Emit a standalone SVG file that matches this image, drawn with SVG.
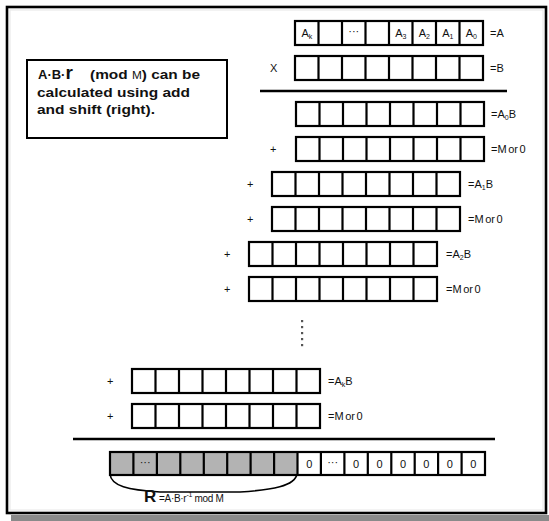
<svg xmlns="http://www.w3.org/2000/svg" xmlns:xlink="http://www.w3.org/1999/xlink" width="549" height="521" viewBox="0 0 549 521">
<style>
.t{font-family:"Liberation Sans",Arial,sans-serif;fill:#111}
.s{font-size:11px}
.m{font-size:11px;word-spacing:-1.5px}
.c{font-size:11px;text-anchor:middle}
.b{font-weight:bold;font-size:13px}
.ln{stroke:#000;stroke-width:2.2;fill:none}
.cell{fill:#fff;stroke:#000;stroke-width:2.2}
</style>
<defs>
<g id="row8">
<rect class="cell" x="0" y="0" width="188" height="24"/>
<path class="ln" d="M23.5,0V24M47,0V24M70.5,0V24M94,0V24M117.5,0V24M141,0V24M164.5,0V24"/>
</g>
</defs>
<rect x="11" y="515" width="538" height="6" fill="#8a8a8a"/>
<rect x="7" y="7" width="539" height="506" fill="#fff" stroke="#000" stroke-width="2.6"/>
<rect x="10" y="10" width="533" height="500" fill="none" stroke="#e6e6e6" stroke-width="1"/>

<g id="note">
<rect x="27" y="60" width="200" height="78" fill="#fff" stroke="#000" stroke-width="2"/>
<text class="t b" x="38" y="79">A·B·<tspan font-size="19px">r</tspan></text>
<text class="t b" x="90" y="79" textLength="110" lengthAdjust="spacingAndGlyphs">(mod <tspan font-size="10px" font-weight="normal">M</tspan>) can be</text>
<text class="t b" x="37" y="97" textLength="153" lengthAdjust="spacingAndGlyphs">calculated using add</text>
<text class="t b" x="37" y="114" textLength="118" lengthAdjust="spacingAndGlyphs">and shift (right).</text>
</g>

<g id="rowA">
<use xlink:href="#row8" x="295" y="21"/>
<text class="t c" x="306.8" y="37">A<tspan font-size="7px" dy="2">k</tspan></text>
<text class="t c" x="353.8" y="35" fill="#666" font-size="9px">···</text>
<text class="t c" x="400.8" y="37">A<tspan font-size="7px" dy="2">3</tspan></text>
<text class="t c" x="424.3" y="37">A<tspan font-size="7px" dy="2">2</tspan></text>
<text class="t c" x="447.8" y="37">A<tspan font-size="7px" dy="2">1</tspan></text>
<text class="t c" x="471.3" y="37">A<tspan font-size="7px" dy="2">0</tspan></text>
<text class="t s" x="490" y="37">=A</text>
</g>
<g id="rowB">
<text class="t s" x="270" y="72">X</text>
<use xlink:href="#row8" x="295" y="56"/>
<text class="t s" x="490" y="72">=B</text>
</g>

<g id="rowA0B">
<use xlink:href="#row8" x="296" y="102"/>
<text class="t s" x="491" y="118">=A<tspan font-size="7px" dy="2">0</tspan><tspan dy="-2">B</tspan></text>
</g>
<g id="rowM0">
<text class="t s" x="270" y="153">+</text>
<use xlink:href="#row8" x="296" y="137"/>
<text class="t m" x="491" y="153">=M or 0</text>
</g>
<g id="rowA1B">
<text class="t s" x="247" y="188">+</text>
<use xlink:href="#row8" x="272" y="172"/>
<text class="t s" x="468" y="188">=A<tspan font-size="7px" dy="2">1</tspan><tspan dy="-2">B</tspan></text>
</g>
<g id="rowM1">
<text class="t s" x="247" y="223">+</text>
<use xlink:href="#row8" x="272" y="207"/>
<text class="t m" x="468" y="223">=M or 0</text>
</g>
<g id="rowA2B">
<text class="t s" x="224" y="258">+</text>
<use xlink:href="#row8" x="249" y="242"/>
<text class="t s" x="446" y="258">=A<tspan font-size="7px" dy="2">2</tspan><tspan dy="-2">B</tspan></text>
</g>
<g id="rowM2">
<text class="t s" x="224" y="293">+</text>
<use xlink:href="#row8" x="249" y="277"/>
<text class="t m" x="446" y="293">=M or 0</text>
</g>

<g id="vdots" fill="#555">
<rect x="301" y="320" width="2.2" height="2.2"/>
<rect x="301" y="326" width="2.2" height="2.2"/>
<rect x="301" y="332" width="2.2" height="2.2"/>
<rect x="301" y="338" width="2.2" height="2.2"/>
<rect x="301" y="344" width="2.2" height="2.2"/>
</g>

<g id="rowAkB">
<text class="t s" x="107" y="385">+</text>
<use xlink:href="#row8" x="132" y="369"/>
<text class="t s" x="328" y="385">=A<tspan font-size="7px" dy="2">k</tspan><tspan dy="-2">B</tspan></text>
</g>
<g id="rowMk">
<text class="t s" x="107" y="420">+</text>
<use xlink:href="#row8" x="132" y="404"/>
<text class="t m" x="328" y="420">=M or 0</text>
</g>

<g id="connectors">
<line x1="260" y1="91" x2="507" y2="91" stroke="#000" stroke-width="2.4"/>
<line x1="73" y1="439" x2="495" y2="439" stroke="#000" stroke-width="2.4"/>
<path d="M110,474 C111,486 128,490 160,492 L240,492 C272,490 295,486 297,474" fill="none" stroke="#000" stroke-width="1.6"/>
</g>

<g id="result">
<rect x="110" y="452" width="187.5" height="23" fill="#b3b3b3"/>
<rect x="110" y="452" width="375" height="23" fill="none" stroke="#000" stroke-width="2.2"/>
<path class="ln" d="M133.4,452V475M156.9,452V475M180.3,452V475M203.8,452V475M227.2,452V475M250.6,452V475M274.1,452V475M297.5,452V475M320.9,452V475M344.4,452V475M367.8,452V475M391.3,452V475M414.7,452V475M438.1,452V475M461.6,452V475"/>
<text class="t c" x="145.2" y="466" fill="#777" font-size="9px">···</text>
<text class="t c" x="309.2" y="468">0</text>
<text class="t c" x="332.7" y="466" fill="#666" font-size="9px">···</text>
<text class="t c" x="356.1" y="468">0</text>
<text class="t c" x="379.5" y="468">0</text>
<text class="t c" x="403" y="468">0</text>
<text class="t c" x="426.4" y="468">0</text>
<text class="t c" x="449.9" y="468">0</text>
<text class="t c" x="473.3" y="468">0</text>
</g>

<g id="resultLabel">
<text class="t" x="144" y="502" font-size="17px" font-weight="bold">R</text>
<text class="t" x="159" y="502" font-size="10px" letter-spacing="-0.3">=A·B·r<tspan font-size="7px" dy="-5">-1</tspan><tspan dy="5"> mod M</tspan></text>
</g>
</svg>
